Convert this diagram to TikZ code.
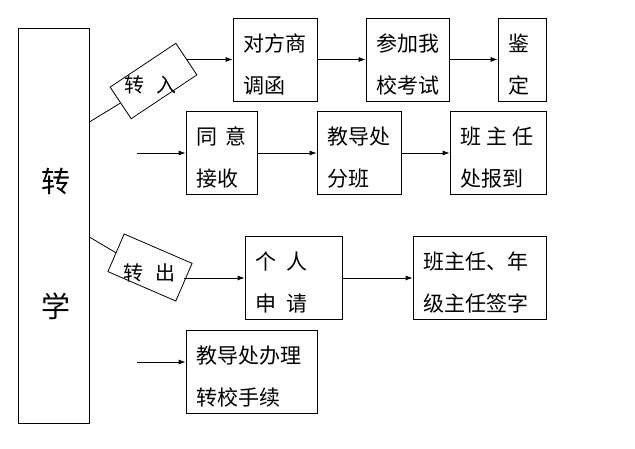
\documentclass[tikz,border=0pt]{standalone}
\usepackage{fontspec}
\setmainfont{Noto Sans CJK SC}
\usetikzlibrary{arrows.meta}
\begin{document}
\begin{tikzpicture}[x=1pt,y=-1pt,>={Latex[length=7pt,width=5pt]},line width=0.8pt,
    box/.style={draw,minimum height=83pt,inner xsep=10pt,inner ysep=0pt,align=left,
      font=\fontsize{21}{42}\selectfont,execute at begin node={\rule{0pt}{27pt}}},
    tilt/.style={draw,inner sep=0pt},
    word/.style={font=\fontsize{20}{20}\selectfont},
    big/.style={font=\fontsize{29}{29}\selectfont}]
      \useasboundingbox (0,0) rectangle (635,449);
      \node[draw,minimum width=71pt,minimum height=395pt] (stu) at (53.5,225.5) {};
      \node[big] (zhuan) at (56,181) {转};
      \node[big] (xue) at (56,306) {学};
      \node[tilt,minimum width=79pt,minimum height=38pt,rotate=33.7] (ru) at (153.5,81) {};
      \node[word] (rutxt) at (150,85) {转\hspace{.6em}入};
      \node[tilt,minimum width=74pt,minimum height=41pt,rotate=-23.4] (chu) at (150,267.5) {};
      \node[word] (chutxt) at (149,273) {转\hspace{.6em}出};
      \node[box,text width=64pt] (dui) at (275,59.5) {对方商\\调函};
      \node[box,text width=63pt] (canjia) at (407.5,59.5) {参加我\\校考试};
      \node[box,text width=28pt] (jianding) at (522,59.5) {鉴\\定};
      \node[box,text width=51pt] (tongyi) at (221.5,153) {同\hspace{.4em}意\\接收};
      \node[box,text width=64pt] (fenban) at (359,153) {教导处\\分班};
      \node[box,text width=76pt] (baodao) at (498,153) {班\hspace{.25em}主\hspace{.25em}任\\处报到};
      \node[box,text width=77pt] (geren) at (293.5,278) {个\hspace{.5em}人\\申\hspace{.5em}请};
      \node[box,text width=113pt] (qianzi) at (479.5,278) {班主任、年\\级主任签字};
      \node[box,text width=111pt] (shouxu) at (251.5,371.5) {教导处办理\\转校手续};
      \coordinate (in1) at (137,153);
      \coordinate (in2) at (137,362);
      \draw (stu.east |- 0,122) -- (ru.west);
      \draw[->] (ru.east |- dui.west) -- (dui.west);
      \draw[->] (dui) -- (canjia);
      \draw[->] (canjia) -- (jianding);
      \draw[->] (in1) -- (tongyi);
      \draw[->] (tongyi) -- (fenban);
      \draw[->] (fenban) -- (baodao);
      \draw (stu.east |- 0,237) -- (chu.west);
      \draw[->] (chu.east |- geren.west) -- (geren.west);
      \draw[->] (geren) -- (qianzi);
      \draw[->] (in2) -- (in2 -| shouxu.west);
    \end{tikzpicture}
\end{document}
